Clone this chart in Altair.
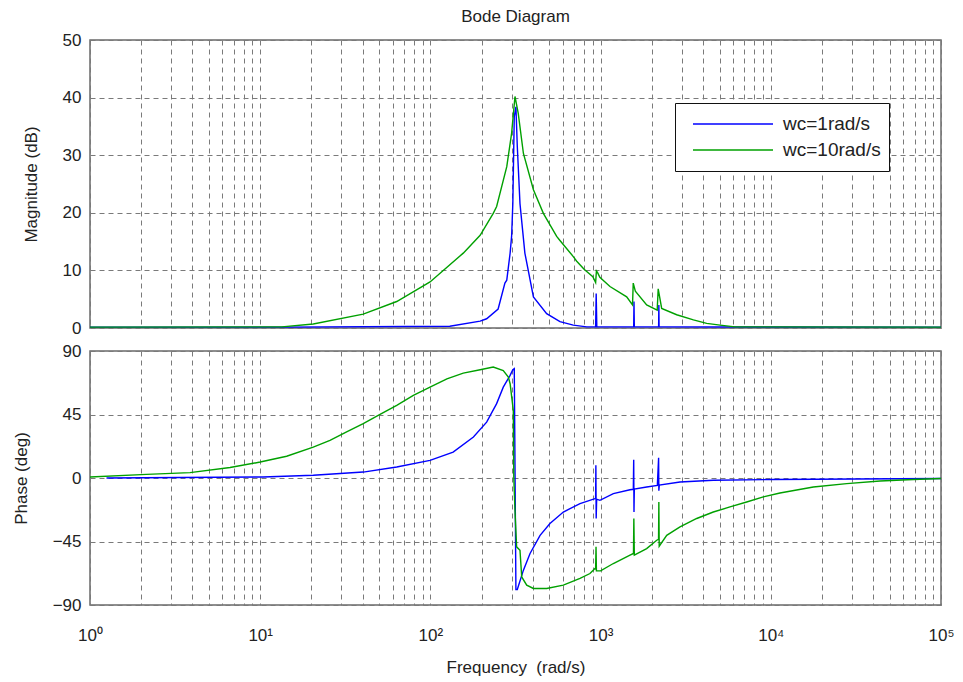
import altair as alt
import pandas as pd

FONT = "Liberation Sans"
TEXT = "#222222"
SERIES = ["wc=1rad/s", "wc=10rad/s"]
COLORS = ["#0000ff", "#00a000"]

# Magnitude (dB) against frequency (rad/s)
mag_blue_w = [1, 13.4, 130, 196, 214, 250, 274, 281, 294, 300, 305, 311, 318, 324, 336,
              359, 403, 482, 577, 691, 829, 935, 942, 950, 1565, 1571, 1578, 2192, 2199,
              2206, 100000]
mag_blue_db = [0.15, 0.15, 0.3, 1.2, 1.6, 3.3, 7.8, 8.3, 13.0, 15.9, 21.6, 36.7, 38.4, 31.5,
               21.6, 13.0, 5.4, 2.5, 1.1, 0.5, 0.2, 0.2, 6.0, 0.2, 0.2, 4.6, 0.2, 0.2, 4.0,
               0.2, 0.15]

mag_green_w = [1, 13.4, 20.5, 40.3, 63.4, 99.5, 156, 196, 234, 245, 281, 300, 314, 328, 352,
               403, 461, 552, 577, 691, 724, 800, 900, 935, 945, 960, 990, 1135, 1423, 1540,
               1555, 1600, 1865, 2150, 2180, 2285, 2799, 3510, 4200, 5031, 6162, 100000]
mag_green_db = [0.15, 0.2, 0.7, 2.4, 4.6, 8.0, 13.0, 16.1, 19.9, 21.1, 28.0, 33.8, 40.2, 37.3,
                30.3, 24.0, 19.9, 15.9, 15.2, 12.4, 11.6, 10.2, 8.9, 7.9, 9.9, 9.6, 8.8, 7.2,
                5.4, 4.0, 7.8, 6.4, 4.0, 3.1, 6.8, 3.4, 2.3, 1.4, 0.8, 0.5, 0.2, 0.15]

# Phase (deg) against frequency (rad/s)
phase_blue_w = [1.25, 10.4, 20.5, 40.3, 63.4, 99.5, 136, 179, 214, 245, 268, 294, 305, 311,
                318, 324, 352, 385, 441, 504, 604, 757, 927, 935, 938, 942, 948, 991, 1188,
                1489, 1557, 1565, 1571, 1578, 1865, 2155, 2192, 2199, 2213, 2928, 4594,
                10120, 100000]
phase_blue_deg = [0.0, 0.7, 1.9, 4.2, 7.8, 12.5, 18.4, 29.0, 39.6, 52.7, 64.4, 72.7, 76.7,
                  77.5, -79.0, -79.0, -65.3, -53.5, -40.6, -32.3, -24.1, -18.1, -14.6, -14.6,
                  9.0, -28.7, -15.0, -15.8, -11.1, -8.3, -8.0, 13.0, -24.1, -7.8, -6.4, -5.2,
                  14.4, -9.0, -5.0, -2.8, -1.6, -1.1, -0.4]

phase_green_w = [1, 2.15, 3.87, 6.65, 10, 14.3, 20.5, 25.7, 32.2, 40.3, 50.6, 63.4, 79.4,
                 99.5, 125, 156, 196, 234, 268, 287, 294, 307, 309, 314, 321, 336, 344, 368,
                 403, 482, 604, 757, 866, 927, 935, 940, 945, 1000, 1188, 1489, 1560, 1568,
                 1578, 1865, 2136, 2190, 2199, 2210, 2446, 2928, 3671, 4594, 5758, 7215, 9036,
                 11320, 17780, 27920, 43850, 68730, 100000]
phase_green_deg = [0.7, 2.6, 3.8, 7.4, 11.3, 15.4, 21.9, 26.7, 32.6, 38.5, 45.1, 51.5, 58.5,
                   64.4, 70.3, 74.3, 76.7, 78.6, 76.2, 71.5, 66.8, 47.9, 0.7, -22.9, -48.8,
                   -51.2, -70.1, -75.9, -78.3, -78.3, -75.9, -71.2, -67.7, -64.1, -64.5, -48.8,
                   -65.8, -65.8, -60.6, -54.7, -53.5, -28.7, -54.7, -50.0, -44.1, -43.5, -17.0,
                   -48.3, -40.6, -34.7, -28.7, -24.1, -20.5, -17.0, -13.4, -10.6, -6.4, -4.0,
                   -2.1, -1.1, -0.4]

mag_ticks = [0, 10, 20, 30, 40, 50]
phase_ticks = [-90, -45, 0, 45, 90]
freq_grid = [k * 10 ** e for e in range(5) for k in range(1, 10)] + [100000]
decade_labels = {1: "10⁰", 10: "10¹", 100: "10²", 1000: "10³", 10000: "10⁴", 100000: "10⁵"}


def frame(ws, vs, name):
    return pd.DataFrame({"w": ws, "v": vs, "series": name})


mag_df = pd.concat([frame(mag_blue_w, mag_blue_db, SERIES[0]),
                    frame(mag_green_w, mag_green_db, SERIES[1])])
phase_df = pd.concat([frame(phase_blue_w, phase_blue_deg, SERIES[0]),
                      frame(phase_green_w, phase_green_deg, SERIES[1])])

label_expr = " : ".join(f"datum.value == {k} ? '{v}'" for k, v in decade_labels.items()) + " : ''"

x_scale = alt.Scale(type="log", domain=[1, 100000], nice=False)
color_scale = alt.Scale(domain=SERIES, range=COLORS)


def panel(df, ytitle, ydomain, yticks, height, x_labels, legend):
    x_axis = alt.Axis(values=freq_grid, labels=x_labels, labelExpr=label_expr,
                      labelOverlap=False, labelFlush=False, labelPadding=22,
                      title="Frequency\u00a0 (rad/s)" if x_labels else None, titlePadding=16)
    y_axis = alt.Axis(values=yticks, title=ytitle, labelPadding=9, titlePadding=22,
                      labelFlush=False)
    layers = []
    for name in SERIES:
        layers.append(
            alt.Chart(df)
            .transform_filter(alt.datum.series == name)
            .mark_line(strokeWidth=1.4, clip=True)
            .encode(
                x=alt.X("w:Q", scale=x_scale, axis=x_axis),
                y=alt.Y("v:Q", scale=alt.Scale(domain=ydomain, nice=False, zero=False),
                        axis=y_axis),
                color=alt.Color("series:N", scale=color_scale, legend=legend),
            )
        )
    return alt.layer(*layers).properties(width=851, height=height)


legend = alt.Legend(title=None, orient="none", legendX=585, legendY=63,
                    symbolType="stroke", symbolSize=6400, symbolStrokeWidth=1.5,
                    clipHeight=26, rowPadding=0, padding=8, symbolOffset=9,
                    labelOffset=9, labelFont=FONT, labelFontSize=19, labelColor=TEXT,
                    labelExpr="datum.label + '\u00a0\u00a0\u00a0'",
                    strokeColor="#111111", fillColor="#ffffff")

top = panel(mag_df, "Magnitude (dB)", [0, 50], mag_ticks, 288, False, legend).properties(
    title=alt.TitleParams("Bode Diagram", frame="group", anchor="middle", offset=5,
                          font=FONT, fontSize=17, fontWeight="normal", color=TEXT))
bottom = panel(phase_df, "Phase (deg)", [-90, 90], phase_ticks, 254, True, None)

chart = (
    alt.vconcat(top, bottom, spacing=23, bounds="flush")
    .resolve_scale(color="independent")
    .properties(padding={"left": 11, "top": 7, "right": 8, "bottom": 6})
    .configure_view(stroke="#6a6a6a", strokeWidth=1.5)
    .configure_axis(grid=True, gridDash=[5, 4], gridColor="#7a7a7a", gridWidth=1,
                    gridOpacity=1, domain=False, ticks=False, labelFont=FONT,
                    titleFont=FONT, labelFontSize=17, titleFontSize=17, labelColor=TEXT,
                    titleColor=TEXT, titleFontWeight="normal")
)

chart.save("out.html", embed_options={"renderer": "svg", "actions": False})
